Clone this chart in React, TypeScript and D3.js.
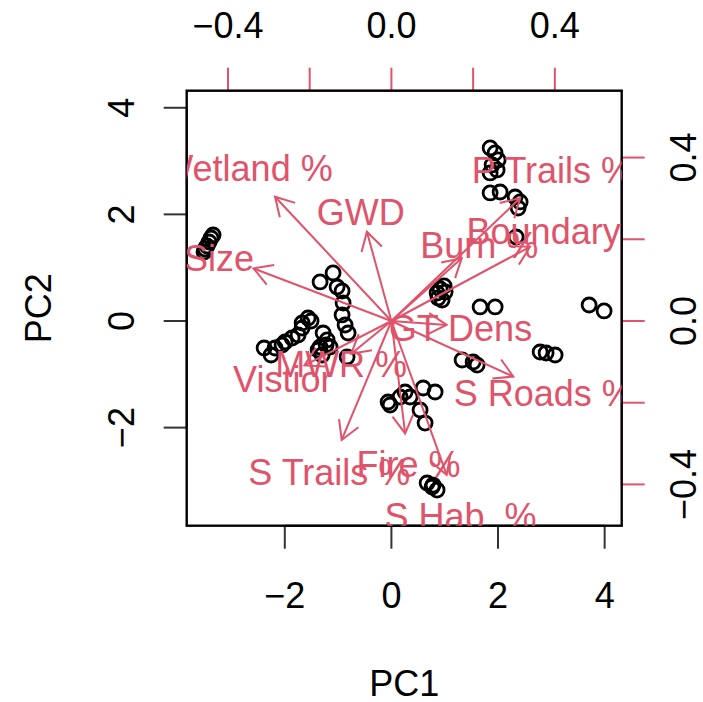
import * as d3 from "d3";

// observation scores (PC1, PC2)
const pc1 = [
  -3.345, -3.383, -3.42, -3.458, -3.495, -3.514,
  -2.388, -2.182, -2.051, -1.994, -1.863, -1.75, -1.675, -1.675, -1.563, -1.507, -2.257,
  -1.094, -1.338, -1.019, -0.925, -0.906, -0.925, -0.869, -0.812,
  -1.281, -1.206, -1.338, -1.15, -1.3, -1.225, -1.375, -0.831,
  1.852, 1.945, 2.002, 1.889, 1.852, 1.983, 1.852, 2.039, 2.321, 2.415, 2.377, 2.34,
  0.857, 0.914, 0.989, 0.876, 0.951, 1.008,
  1.664, 1.946, 3.709, 3.99, 1.326, 1.533, 1.608, 2.79, 2.902, 3.071,
  -0.062, -0.024, 0.163, 0.257, 0.351, 0.595, 0.82, 0.538, 0.632, 0.67, 0.782, 0.857, 0.764,
];
const pc2 = [
  1.613, 1.557, 1.482, 1.407, 1.351, 1.295,
  -0.507, -0.507, -0.45, -0.394, -0.319, -0.263, -0.131, -0.038, 0.056, 0.0, -0.638,
  0.901, 0.732, 0.638, 0.563, 0.338, 0.113, -0.075, -0.225,
  -0.225, -0.356, -0.488, -0.488, -0.638, -0.45, -0.544, -0.675,
  3.246, 3.152, 3.021, 2.927, 2.777, 2.833, 2.402, 2.42, 2.326, 2.233, 2.12, 1.576,
  0.525, 0.6, 0.657, 0.432, 0.394, 0.544,
  0.263, 0.263, 0.3, 0.188, -0.732, -0.769, -0.826, -0.582, -0.6, -0.638,
  -1.52, -1.576, -1.426, -1.332, -1.426, -1.257, -1.332, -1.67, -1.914, -3.039, -3.077, -3.171, -3.114,
];

// variable loadings
const varNames = [
  "Wetland %", "GWD", "Size", "P Trails %", "Boundary %", "Burn %", "GT Dens",
  "S Roads %", "S Trails %", "Fire %", "S Hab  %", "MWR %", "Vistior",
];
const load1 = [-0.356, -0.075, -0.422, 0.394, 0.424, 0.215, 0.169, 0.373, -0.152, 0.042, 0.169, -0.123, -0.266];
const load2 = [0.38, 0.273, 0.161, 0.376, 0.227, 0.192, -0.012, -0.17, -0.364, -0.344, -0.471, -0.1, -0.136];

const scoreTicks = [-2, 0, 2, 4];
const loadTicks = [-0.4, -0.2, 0, 0.2, 0.4];
const loadTickLabels = [-0.4, 0, 0.4];

const RED = "#DF536B";
const FONT = "'Liberation Sans', Arial, Helvetica, sans-serif";
const FS = 36;

export default function App() {
  const box = { left: 186.7, top: 90.7, size: 435 };
  const right = box.left + box.size;
  const bottom = box.top + box.size;
  const lim: [number, number] = [-3.84, 4.32];
  const ratio = 53.3 / 408.5;

  const x = d3.scaleLinear().domain(lim).range([box.left, right]);
  const y = d3.scaleLinear().domain(lim).range([bottom, box.top]);
  const x2 = d3.scaleLinear().domain([lim[0] * ratio, lim[1] * ratio]).range([box.left, right]);
  const y2 = d3.scaleLinear().domain([lim[0] * ratio, lim[1] * ratio]).range([bottom, box.top]);

  const tickLen = 23;
  const fmt = (v: number, d: number) => (v < 0 ? "\u2212" : "") + Math.abs(v).toFixed(d);

  const headLen = 21;
  const arrows = varNames.map((name, i) => {
    const x0 = x2(0), y0 = y2(0);
    const x1 = x2(load1[i] * 0.8), y1 = y2(load2[i] * 0.8);
    const a = Math.atan2(y1 - y0, x1 - x0);
    const h = Math.PI / 6;
    const head = d3.line()([
      [x1 - headLen * Math.cos(a - h), y1 - headLen * Math.sin(a - h)],
      [x1, y1],
      [x1 - headLen * Math.cos(a + h), y1 - headLen * Math.sin(a + h)],
    ]);
    return { name, x0, y0, x1, y1, head, lx: x2(load1[i]), ly: y2(load2[i]) };
  });

  return (
    <svg
      width={703}
      height={702}
      style={{ position: "absolute", left: 0, top: 0, background: "#fff" }}
      fontFamily={FONT}
    >
      <defs>
        <clipPath id="plotclip">
          <rect x={box.left} y={box.top} width={box.size} height={box.size} />
        </clipPath>
      </defs>
      <rect width={703} height={702} fill="#fff" />

      {/* points */}
      <g fill="none" stroke="#000" strokeWidth={2.8} clipPath="url(#plotclip)">
        {pc1.map((v, i) => (
          <circle key={i} cx={x(v)} cy={y(pc2[i])} r={7} />
        ))}
      </g>

      {/* bottom axis */}
      <g stroke="#333" strokeWidth={2}>
        <line x1={x(scoreTicks[0])} x2={x(scoreTicks[scoreTicks.length - 1])} y1={bottom} y2={bottom} />
        {scoreTicks.map((t) => (
          <line key={t} x1={x(t)} x2={x(t)} y1={bottom} y2={bottom + tickLen} />
        ))}
      </g>
      {scoreTicks.map((t) => (
        <text key={t} x={x(t)} y={595} fontSize={FS} textAnchor="middle" dominantBaseline="central">
          {fmt(t, 0)}
        </text>
      ))}

      {/* left axis */}
      <g stroke="#333" strokeWidth={2}>
        <line x1={box.left} x2={box.left} y1={y(scoreTicks[0])} y2={y(scoreTicks[scoreTicks.length - 1])} />
        {scoreTicks.map((t) => (
          <line key={t} x1={box.left} x2={box.left - tickLen} y1={y(t)} y2={y(t)} />
        ))}
      </g>
      {scoreTicks.map((t) => (
        <text
          key={t}
          transform={`translate(121,${y(t)}) rotate(-90)`}
          fontSize={FS}
          textAnchor="middle"
          dominantBaseline="central"
        >
          {fmt(t, 0)}
        </text>
      ))}

      {/* top axis (loadings) */}
      <g stroke={RED} strokeWidth={2}>
        <line x1={x2(-0.4)} x2={x2(0.4)} y1={box.top} y2={box.top} />
        {loadTicks.map((t) => (
          <line key={t} x1={x2(t)} x2={x2(t)} y1={box.top} y2={box.top - tickLen} />
        ))}
      </g>
      {loadTickLabels.map((t) => (
        <text key={t} x={x2(t)} y={25} fontSize={FS} textAnchor="middle" dominantBaseline="central">
          {fmt(t, 1)}
        </text>
      ))}

      {/* right axis (loadings) */}
      <g stroke={RED} strokeWidth={2}>
        <line x1={right} x2={right} y1={y2(-0.4)} y2={y2(0.4)} />
        {loadTicks.map((t) => (
          <line key={t} x1={right} x2={right + tickLen} y1={y2(t)} y2={y2(t)} />
        ))}
      </g>
      {loadTickLabels.map((t) => (
        <text
          key={t}
          transform={`translate(683,${y2(t)}) rotate(-90)`}
          fontSize={FS}
          textAnchor="middle"
          dominantBaseline="central"
        >
          {fmt(t, 1)}
        </text>
      ))}

      {/* box */}
      <rect x={box.left} y={box.top} width={box.size} height={box.size} fill="none" stroke="#000" strokeWidth={2.4} />

      {/* variable labels and arrows */}
      <g clipPath="url(#plotclip)">
        {arrows.map((a) => (
          <text
            key={a.name}
            x={a.lx}
            y={a.ly}
            dy={3}
            fill={RED}
            fontSize={FS}
            textAnchor="middle"
            dominantBaseline="central"
            style={{ whiteSpace: "pre" }}
          >
            {a.name}
          </text>
        ))}
        <g stroke={RED} strokeWidth={2} fill="none">
          {arrows.map((a) => (
            <g key={a.name}>
              <line x1={a.x0} y1={a.y0} x2={a.x1} y2={a.y1} />
              <path d={a.head ?? ""} />
            </g>
          ))}
        </g>
      </g>

      {/* axis titles */}
      <text x={(box.left + right) / 2} y={683} fontSize={FS} textAnchor="middle" dominantBaseline="central">
        PC1
      </text>
      <text
        transform={`translate(38,${(box.top + bottom) / 2}) rotate(-90)`}
        fontSize={FS}
        textAnchor="middle"
        dominantBaseline="central"
      >
        PC2
      </text>
    </svg>
  );
}
